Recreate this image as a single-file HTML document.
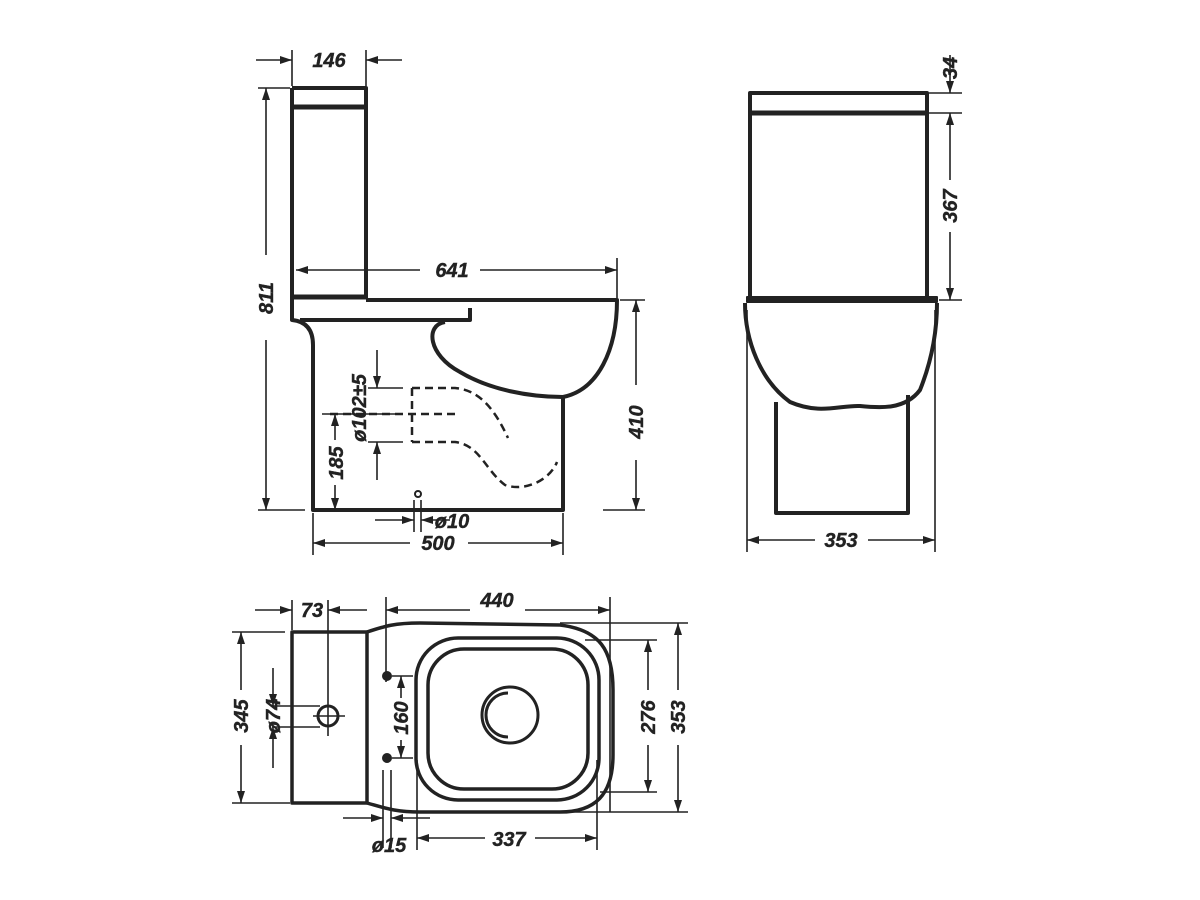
<!DOCTYPE html>
<html><head><meta charset="utf-8"><style>
html,body{margin:0;padding:0;background:#fff;}
svg{display:block}
text{font-family:"Liberation Sans",sans-serif;font-weight:bold;font-style:italic;font-size:20px;fill:#222;stroke:#222;stroke-width:0.4;}
</style></head><body>
<svg width="1200" height="900" viewBox="0 0 1200 900" xmlns="http://www.w3.org/2000/svg">
<defs>
<marker id="a" viewBox="0 0 12 8" refX="12" refY="4" markerWidth="12" markerHeight="8" markerUnits="userSpaceOnUse" orient="auto-start-reverse">
<path d="M0 0 L12 4 L0 8 Z" fill="#222"/></marker>
</defs>
<g fill="none" stroke="#222" stroke-linejoin="round">
<!-- SIDE VIEW -->
<g stroke-width="4">
<path d="M292 88 L366 88 L366 298"/>
<line x1="292" y1="107" x2="366" y2="107" stroke-width="5"/>
<line x1="292" y1="297" x2="366" y2="297" stroke-width="5"/>
<path d="M292 88 L292 320 Q313 322 313 345 L313 510 L563 510 L563 397"/>
<path d="M366 300 L617 300 C617 350 598 390 563 397"/>
<path d="M300 320 L470 320 L470 308"/>
<path d="M445 322 C425 325 428 355 460 372 C490 390 530 397 563 397"/>
</g>
<g stroke-width="2.5" stroke-dasharray="8,5">
<path d="M412 388 L412 442"/>
<path d="M412 388 L455 388 C480 390 495 410 508 438"/>
<path d="M412 442 L455 442 C480 445 485 470 505 485 C525 492 550 480 557 462"/>
<path d="M330 414 L460 414"/>
</g>
<circle cx="418" cy="494" r="3" stroke-width="2"/>
<g stroke-width="1.6">
<line x1="292" y1="50" x2="292" y2="86"/><line x1="366" y1="50" x2="366" y2="86"/>
<line x1="256" y1="60" x2="292" y2="60" marker-end="url(#a)"/>
<line x1="402" y1="60" x2="366" y2="60" marker-end="url(#a)"/>
<line x1="258" y1="88" x2="290" y2="88"/><line x1="258" y1="510" x2="305" y2="510"/>
<line x1="266" y1="255" x2="266" y2="88" marker-end="url(#a)"/>
<line x1="266" y1="340" x2="266" y2="510" marker-end="url(#a)"/>
<line x1="617" y1="258" x2="617" y2="298"/>
<line x1="420" y1="270" x2="296" y2="270" marker-end="url(#a)"/>
<line x1="480" y1="270" x2="617" y2="270" marker-end="url(#a)"/>
<line x1="620" y1="300" x2="645" y2="300"/><line x1="603" y1="510" x2="645" y2="510"/>
<line x1="636" y1="385" x2="636" y2="300" marker-end="url(#a)"/>
<line x1="636" y1="460" x2="636" y2="510" marker-end="url(#a)"/>
<line x1="368" y1="388" x2="403" y2="388"/><line x1="368" y1="442" x2="403" y2="442"/>
<line x1="377" y1="350" x2="377" y2="388" marker-end="url(#a)"/>
<line x1="377" y1="480" x2="377" y2="442" marker-end="url(#a)"/>
<line x1="322" y1="414" x2="400" y2="414"/>
<line x1="335" y1="440" x2="335" y2="414" marker-end="url(#a)"/>
<line x1="335" y1="485" x2="335" y2="510" marker-end="url(#a)"/>
<line x1="414" y1="500" x2="414" y2="532"/><line x1="421" y1="500" x2="421" y2="532"/>
<line x1="375" y1="520" x2="414" y2="520" marker-end="url(#a)"/>
<line x1="450" y1="520" x2="421" y2="520" marker-end="url(#a)"/>
<line x1="313" y1="513" x2="313" y2="555"/><line x1="563" y1="513" x2="563" y2="555"/>
<line x1="410" y1="543" x2="313" y2="543" marker-end="url(#a)"/>
<line x1="468" y1="543" x2="563" y2="543" marker-end="url(#a)"/>
</g>

<!-- FRONT VIEW -->
<g stroke-width="4">
<path d="M750 299 L750 93 L927 93 L927 299"/>
<line x1="750" y1="113" x2="927" y2="113" stroke-width="5"/>
<rect x="747" y="297" width="190" height="5" fill="#222" stroke-width="2"/>
<path d="M745 303 C745 340 760 380 790 402 C820 415 840 405 860 406 C880 408 905 410 920 390 C932 360 937 330 937 303"/>
<path d="M776 402 L776 513 L908 513 L908 395"/>
</g>
<g stroke-width="1.6">
<line x1="929" y1="93" x2="962" y2="93"/><line x1="929" y1="113" x2="962" y2="113"/><line x1="939" y1="300" x2="962" y2="300"/>
<line x1="950" y1="55" x2="950" y2="93" marker-end="url(#a)"/>
<line x1="950" y1="180" x2="950" y2="113" marker-end="url(#a)"/>
<line x1="950" y1="232" x2="950" y2="300" marker-end="url(#a)"/>
<line x1="747" y1="310" x2="747" y2="552"/><line x1="935" y1="310" x2="935" y2="552"/>
<line x1="815" y1="540" x2="747" y2="540" marker-end="url(#a)"/>
<line x1="868" y1="540" x2="935" y2="540" marker-end="url(#a)"/>
</g>

<!-- PLAN VIEW -->
<g stroke-width="3.5">
<rect x="292" y="632" width="75" height="171"/>
<path d="M367 632 C385 626 395 623 420 623 L560 625 C600 630 613 650 613 690 L613 755 C613 795 595 812 560 812 L420 812 C395 812 385 808 367 803"/>
<rect x="416" y="638" width="183" height="162" rx="42"/>
<rect x="428" y="649" width="160" height="140" rx="36"/>
<circle cx="510" cy="715" r="28" stroke-width="3"/>
<path d="M508 693 A21 21 0 1 0 508 737" stroke-width="3"/>
<circle cx="387" cy="676" r="4" fill="#222" stroke-width="2"/>
<circle cx="387" cy="758" r="4" fill="#222" stroke-width="2"/>
<circle cx="328" cy="716" r="10" stroke-width="3"/>
</g>
<g stroke-width="1.6">
<line x1="313" y1="716" x2="345" y2="716"/>
<line x1="292" y1="600" x2="292" y2="630"/><line x1="328" y1="600" x2="328" y2="736"/>
<line x1="255" y1="610" x2="292" y2="610" marker-end="url(#a)"/>
<line x1="367" y1="610" x2="328" y2="610" marker-end="url(#a)"/>
<line x1="386" y1="597" x2="386" y2="682"/><line x1="610" y1="597" x2="610" y2="812"/>
<line x1="470" y1="610" x2="386" y2="610" marker-end="url(#a)"/>
<line x1="525" y1="610" x2="610" y2="610" marker-end="url(#a)"/>
<line x1="232" y1="632" x2="285" y2="632"/><line x1="232" y1="803" x2="290" y2="803"/>
<line x1="241" y1="690" x2="241" y2="632" marker-end="url(#a)"/>
<line x1="241" y1="745" x2="241" y2="803" marker-end="url(#a)"/>
<line x1="272" y1="706" x2="320" y2="706"/><line x1="272" y1="727" x2="320" y2="727"/>
<line x1="273" y1="668" x2="273" y2="706" marker-end="url(#a)"/>
<line x1="273" y1="768" x2="273" y2="727" marker-end="url(#a)"/>
<line x1="392" y1="676" x2="413" y2="676"/><line x1="392" y1="758" x2="413" y2="758"/>
<line x1="401" y1="698" x2="401" y2="676" marker-end="url(#a)"/>
<line x1="401" y1="740" x2="401" y2="758" marker-end="url(#a)"/>
<line x1="585" y1="640" x2="657" y2="640"/><line x1="600" y1="792" x2="657" y2="792"/>
<line x1="648" y1="690" x2="648" y2="640" marker-end="url(#a)"/>
<line x1="648" y1="745" x2="648" y2="792" marker-end="url(#a)"/>
<line x1="560" y1="623" x2="688" y2="623"/><line x1="560" y1="812" x2="688" y2="812"/>
<line x1="678" y1="690" x2="678" y2="623" marker-end="url(#a)"/>
<line x1="678" y1="745" x2="678" y2="812" marker-end="url(#a)"/>
<line x1="383" y1="770" x2="383" y2="848"/><line x1="391" y1="770" x2="391" y2="848"/>
<line x1="343" y1="818" x2="383" y2="818" marker-end="url(#a)"/>
<line x1="430" y1="818" x2="391" y2="818" marker-end="url(#a)"/>
<line x1="417" y1="760" x2="417" y2="850"/><line x1="597" y1="760" x2="597" y2="850"/>
<line x1="485" y1="838" x2="417" y2="838" marker-end="url(#a)"/>
<line x1="535" y1="838" x2="597" y2="838" marker-end="url(#a)"/>
</g>
</g>

<text x="329" y="67" text-anchor="middle">146</text>
<text transform="translate(273,298) rotate(-90)" text-anchor="middle">811</text>
<text x="452" y="277" text-anchor="middle">641</text>
<text transform="translate(643,422) rotate(-90)" text-anchor="middle">410</text>
<text transform="translate(366,408) rotate(-90)" text-anchor="middle">ø102±5</text>
<text transform="translate(343,463) rotate(-90)" text-anchor="middle">185</text>
<text x="452" y="528" text-anchor="middle">ø10</text>
<text x="438" y="550" text-anchor="middle">500</text>
<text transform="translate(957,68) rotate(-90)" text-anchor="middle">34</text>
<text transform="translate(957,206) rotate(-90)" text-anchor="middle">367</text>
<text x="841" y="547" text-anchor="middle">353</text>
<text x="312" y="617" text-anchor="middle">73</text>
<text x="497" y="607" text-anchor="middle">440</text>
<text transform="translate(248,716) rotate(-90)" text-anchor="middle">345</text>
<text transform="translate(280,716) rotate(-90)" text-anchor="middle">ø74</text>
<text transform="translate(408,718) rotate(-90)" text-anchor="middle">160</text>
<text transform="translate(655,717) rotate(-90)" text-anchor="middle">276</text>
<text transform="translate(685,717) rotate(-90)" text-anchor="middle">353</text>
<text x="389" y="852" text-anchor="middle">ø15</text>
<text x="509" y="846" text-anchor="middle">337</text>
</svg>
</body></html>
